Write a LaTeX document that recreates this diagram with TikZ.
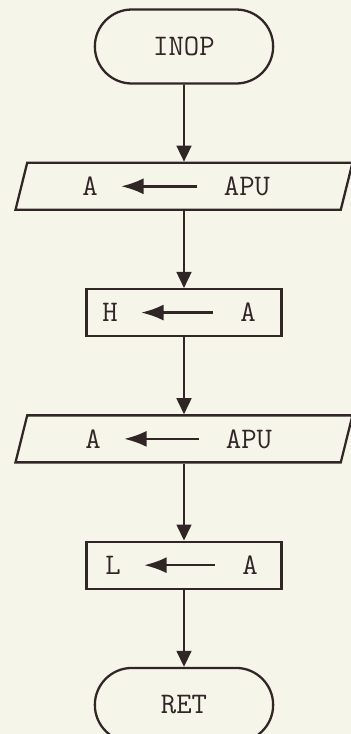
\documentclass[tikz,border=0pt]{standalone}
\usepackage{fontspec}
\usetikzlibrary{positioning,shapes.geometric,shapes.misc,arrows.meta}

\definecolor{paper}{RGB}{246,245,234}
\definecolor{ink}{RGB}{48,38,38}

\tikzset{
  every node/.style={font=\ttfamily\fontsize{17}{20}\selectfont,text=ink},
  terminal/.style={draw=ink,line width=1.3pt,rounded rectangle,
    minimum width=3.8cm,minimum height=1.48cm},
  inout/.style={draw=ink,line width=1.3pt,trapezium,
    trapezium left angle=45,trapezium right angle=135,
    trapezium stretches body,minimum width=6.74cm,minimum height=0.94cm},
  process/.style={draw=ink,line width=1.3pt,rectangle,
    minimum width=3.9cm,minimum height=0.94cm},
  lbl/.style={inner sep=0pt},
  flow/.style={draw=ink,line width=0.9pt,-{Triangle[width=0.3cm,length=0.32cm]}},
  assign/.style={draw=ink,line width=1.5pt,-{Latex[width=0.32cm,length=0.45cm]},
    shorten >=0.46cm,shorten <=0.54cm}
}

\begin{document}
\begin{tikzpicture}[auto,node distance=1.54cm]
  % paper and margins
  \fill[paper] (0,0) rectangle (7.02,-14.68);
  \useasboundingbox (0,0) rectangle (7.02,-14.68);

  % the chain of steps, top to bottom
  \node[terminal] (inop) at (3.68,-0.93) {INOP};
  \node[inout] (apu1) [below=of inop] {};
  \node[process] (hreg) [below=of apu1] {};
  \node[inout] (apu2) [below=of hreg] {};
  \node[process] (lreg) [below=of apu2] {};
  \node[terminal] (ret) [below=of lreg] {RET};

  % texts inside the boxes
  \node[lbl] (a1) at ([xshift=-1.88cm]apu1.center) {A};
  \node[lbl] (apusrc1) at ([xshift=1.26cm]apu1.center) {APU};
  \node[lbl] (h) at ([xshift=-1.48cm]hreg.center) {H};
  \node[lbl] (a2) at ([xshift=1.28cm]hreg.center) {A};
  \node[lbl] (a3) at ([xshift=-1.82cm]apu2.center) {A};
  \node[lbl] (apusrc2) at ([xshift=1.30cm]apu2.center) {APU};
  \node[lbl] (l) at ([xshift=-1.42cm]lreg.center) {L};
  \node[lbl] (a4) at ([xshift=1.32cm]lreg.center) {A};

  % assignments
  \draw[assign] (apusrc1) -- (a1);
  \draw[assign] (a2) -- (h);
  \draw[assign] (apusrc2) -- (a3);
  \draw[assign] (a4) -- (l);

  % flow lines
  \draw[flow] (inop) -- (apu1);
  \draw[flow] (apu1) -- (hreg);
  \draw[flow] (hreg) -- (apu2);
  \draw[flow] (apu2) -- (lreg);
  \draw[flow] (lreg) -- (ret);
\end{tikzpicture}
\end{document}
